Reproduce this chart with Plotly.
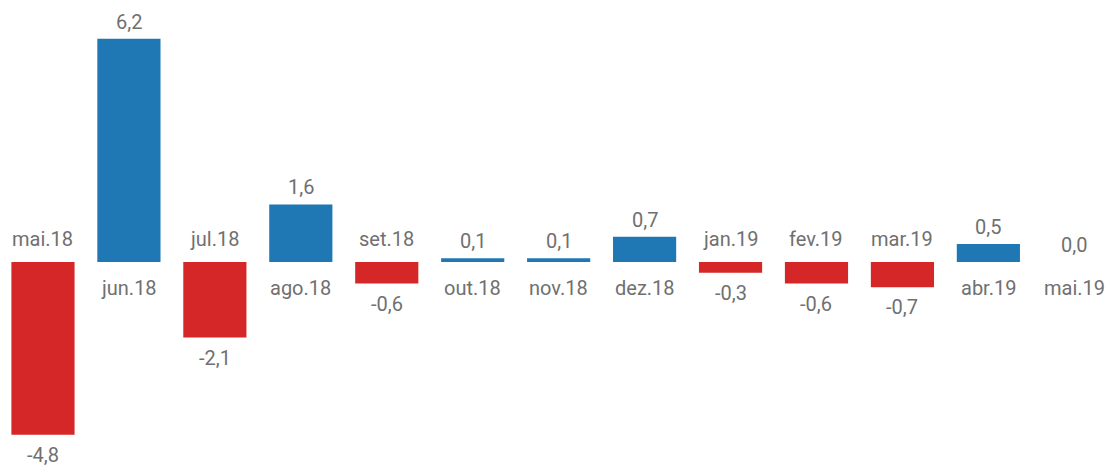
import plotly.graph_objects as go

categories = ["mai.18", "jun.18", "jul.18", "ago.18", "set.18", "out.18", "nov.18",
              "dez.18", "jan.19", "fev.19", "mar.19", "abr.19", "mai.19"]
values = [-4.8, 6.2, -2.1, 1.6, -0.6, 0.1, 0.1, 0.7, -0.3, -0.6, -0.7, 0.5, 0.0]

RED = "#d62728"
BLUE = "#1f77b4"
TXT = "#707070"
FONT = "Roboto"
FS = 20

colors = [BLUE if v >= 0 else RED for v in values]

fig = go.Figure(go.Bar(
    x=categories, y=values, marker=dict(color=colors, line=dict(width=0)),
    width=0.735, hoverinfo="skip"))

annotations = []
for c, v in zip(categories, values):
    lab = f"{v:.1f}".replace(".", ",")
    pos = v >= 0
    annotations.append(dict(x=c, y=v, text=lab, showarrow=False, xref="x", yref="y",
                            yanchor="middle", yshift=17 if pos else -20,
                            font=dict(family=FONT, size=FS, color=TXT)))
    annotations.append(dict(x=c, y=0, text=c, showarrow=False, xref="x", yref="y",
                            yanchor="middle", yshift=-26 if pos else 23,
                            font=dict(family=FONT, size=FS, color=TXT)))

fig.update_layout(
    width=1113, height=466,
    margin=dict(l=0, r=0, t=0, b=0),
    plot_bgcolor="white", paper_bgcolor="white",
    showlegend=False,
    annotations=annotations,
    xaxis=dict(visible=False, range=[-0.5, 12.45]),
    yaxis=dict(visible=False, range=[-5.67, 7.28]),
    font=dict(family=FONT, size=FS, color=TXT),
)

fig.write_html("out.html", config={"displayModeBar": False},
               post_script="document.body.style.margin='0';document.body.style.overflow='hidden';")
